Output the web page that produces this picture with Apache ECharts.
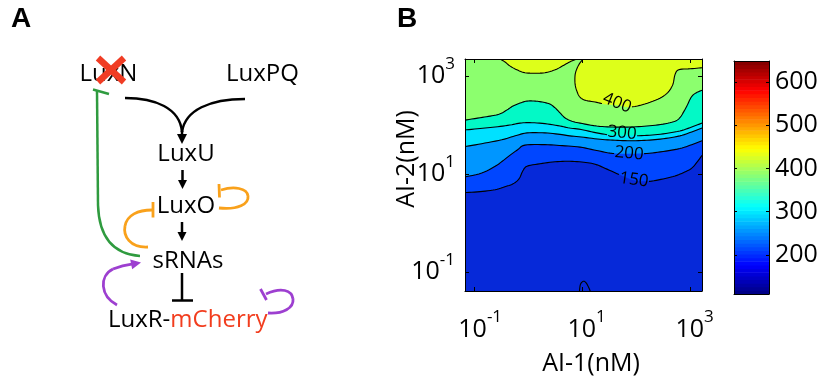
<!DOCTYPE html>
<html><head><meta charset="utf-8">
<script src="https://cdn.jsdelivr.net/npm/echarts@6/dist/echarts.min.js"></script>
<style>html,body{margin:0;padding:0;background:#fff}#c{width:821px;height:381px}</style>
</head><body><div id="c"></div>
<script>
// ---------- DATA (log10 of concentration in nM) ----------
const ai1Ticks = [-1, 1, 3];          // AI-1 axis ticks: 10^-1, 10^1, 10^3
const ai2Ticks = [-1, 1, 3];          // AI-2 axis ticks
const ai1Range = [-1.17, 3.22];
const ai2Range = [-1.39, 3.35];
const colorbarTicks = [200, 300, 400, 500, 600];
const colorbarRange = [110, 648];

// contour lines: [log10 AI-1, log10 AI-2]
const level350 = [[-1.17,2.10],[-0.89,2.15],[-0.67,2.19],[-0.52,2.23],[-0.39,2.31],[-0.28,2.39],[-0.15,2.45],[-0.02,2.49],[0.13,2.49],[0.26,2.47],[0.40,2.43],[0.50,2.35],[0.59,2.25],[0.68,2.15],[0.81,2.08],[0.96,2.04],[1.27,1.98],[1.57,1.96],[1.89,1.96],[2.20,1.98],[2.50,2.02],[2.72,2.08],[2.81,2.15],[2.88,2.27],[2.94,2.39],[3.00,2.53],[3.05,2.61],[3.13,2.67],[3.22,2.71]];
const level300 = [[-1.17,1.90],[-0.89,1.93],[-0.61,1.96],[-0.34,2.00],[-0.15,2.04],[0.03,2.05],[0.31,2.03],[0.59,1.98],[0.77,1.94],[0.98,1.91],[1.27,1.84],[1.57,1.79],[1.89,1.78],[2.20,1.79],[2.50,1.82],[2.81,1.88],[3.03,1.96],[3.22,2.04]];
const level250 = [[-1.17,1.56],[-0.86,1.62],[-0.49,1.70],[-0.24,1.78],[-0.02,1.84],[0.31,1.84],[0.59,1.81],[0.77,1.78],[1.03,1.75],[1.33,1.71],[1.61,1.69],[1.89,1.68],[2.20,1.69],[2.50,1.72],[2.81,1.78],[3.03,1.86],[3.22,1.94]];
const level200 = [[-1.17,0.94],[-0.86,1.02],[-0.61,1.16],[-0.48,1.26],[-0.34,1.38],[-0.19,1.50],[-0.06,1.59],[0.31,1.60],[0.63,1.58],[0.96,1.55],[1.27,1.48],[1.57,1.42],[1.89,1.41],[2.20,1.42],[2.50,1.46],[2.81,1.52],[3.03,1.60],[3.22,1.68]];
const level150 = [[-1.17,0.62],[-0.89,0.64],[-0.61,0.68],[-0.43,0.74],[-0.28,0.80],[-0.17,0.90],[-0.10,1.06],[-0.02,1.16],[0.22,1.21],[0.50,1.25],[0.77,1.26],[1.03,1.24],[1.24,1.20],[1.46,1.10],[1.74,0.96],[1.98,0.86],[2.24,0.85],[2.50,0.90],[2.72,0.96],[2.90,1.04],[3.03,1.12],[3.14,1.26],[3.22,1.38]];
const level400Left = [[-0.52,3.35],[-0.43,3.29],[-0.34,3.21],[-0.21,3.13],[-0.06,3.07],[0.13,3.06],[0.31,3.07],[0.50,3.13],[0.64,3.21],[0.77,3.29],[0.90,3.35]];
const level400Right = [[1.02,3.35],[0.96,3.27],[0.91,3.17],[0.87,3.03],[0.87,2.83],[0.91,2.67],[0.96,2.57],[1.05,2.51],[1.24,2.47],[1.42,2.43],[1.64,2.41],[1.89,2.37],[2.16,2.43],[2.44,2.55],[2.59,2.67],[2.68,2.83],[2.72,3.03],[2.79,3.13],[3.00,3.15],[3.22,3.17]];
const level150Loop = [[0.95,-1.39],[0.97,-1.25],[1.03,-1.19],[1.09,-1.25],[1.15,-1.39]];

// ---------- STYLE ----------
const FONT = '"Open Sans", "Noto Sans", sans-serif';
const bandColor = {
  base: '#8cff6e',   // 350-400
  350: '#03f9c6',    // below 350
  300: '#00e1ff',
  250: '#0096ff',
  200: '#0046ff',
  150: '#0629d9',
  400: '#ddff1a'     // above 400
};
const contours = [
  {pts: level350, level: 350, fill: 'down'},
  {pts: level300, level: 300, fill: 'down', label: {at: [1.74, 1.84], rot: -5}},
  {pts: level250, level: 250, fill: 'down'},
  {pts: level200, level: 200, fill: 'down', label: {at: [1.87, 1.42], rot: -5}},
  {pts: level150, level: 150, fill: 'down', label: {at: [1.96, 0.88], rot: -8}},
  {pts: level400Left, level: 400, fill: 'up'},
  {pts: level400Right, level: 400, fill: 'up', label: {at: [1.645, 2.45], rot: -22}},
  {pts: level150Loop, level: 150, fill: null}
];
const labeled = contours.filter(c => c.label);

// Catmull-Rom smoothing of a pixel polyline (rendering only)
function smoothPix(pix, k) {
  if (pix.length < 3) return pix;
  const out = [];
  for (let i = 0; i < pix.length - 1; i++) {
    const p0 = pix[Math.max(0, i - 1)], p1 = pix[i], p2 = pix[i + 1], p3 = pix[Math.min(pix.length - 1, i + 2)];
    for (let s = 0; s < k; s++) {
      const t = s / k, t2 = t * t, t3 = t2 * t;
      const f = (a, b, c, d) => 0.5 * ((2 * b) + (-a + c) * t + (2 * a - 5 * b + 4 * c - d) * t2 + (-a + 3 * b - 3 * c + d) * t3);
      out.push([f(p0[0], p1[0], p2[0], p3[0]), f(p0[1], p1[1], p2[1], p3[1])]);
    }
  }
  out.push(pix[pix.length - 1]);
  return out;
}
function interp(q, p, x) { return [x, q[1] + (p[1] - q[1]) * (x - q[0]) / (p[0] - q[0])]; }
function gapSegments(pix, gap) {
  if (!gap) return [pix];
  const ins = p => p[0] > gap[0] && p[0] < gap[1];
  const segs = []; let cur = [];
  for (let i = 0; i < pix.length; i++) {
    const p = pix[i];
    if (i > 0) {
      const q = pix[i - 1];
      const qi = ins(q), pi = ins(p);
      if (!qi && pi) { cur.push(interp(q, p, q[0] <= gap[0] ? gap[0] : gap[1])); segs.push(cur); cur = []; }
      else if (qi && !pi) { cur = [interp(q, p, p[0] >= gap[1] ? gap[1] : gap[0])]; }
      else if (!qi && !pi && ((q[0] <= gap[0] && p[0] >= gap[1]) || (q[0] >= gap[1] && p[0] <= gap[0]))) {
        const a = q[0] < p[0] ? gap[0] : gap[1], b = q[0] < p[0] ? gap[1] : gap[0];
        cur.push(interp(q, p, a)); segs.push(cur); cur = [interp(q, p, b)];
      }
    }
    if (!ins(p)) cur.push(p);
  }
  if (cur.length > 1) segs.push(cur);
  return segs;
}
function jet(f) {
  const c = x => Math.max(0, Math.min(1, x));
  const r = c(Math.min(4 * f - 1.5, -4 * f + 4.5)), g = c(Math.min(4 * f - 0.5, -4 * f + 3.5)), b = c(Math.min(4 * f + 0.5, -4 * f + 2.5));
  return 'rgb(' + Math.round(r * 255) + ',' + Math.round(g * 255) + ',' + Math.round(b * 255) + ')';
}
const cbSteps = Array.from({length: 64}, (_, i) => i);

const TICKFS = 25;
const supRich = {
  b: {fontSize: TICKFS, fontFamily: FONT, color: '#000', verticalAlign: 'bottom', padding: [8, 0, 0, 0]},
  e: {fontSize: 17, fontFamily: FONT, color: '#000', verticalAlign: 'top'},
  pn: {width: 12, fontSize: 10}, pp: {width: 9, fontSize: 10}
};
const fmtX = v => { const n = Math.round(v); return (n < 0 ? '{pn| }' : '{pp| }') + '{b|10}{e|' + n + '}'; };
const fmtY = v => '{b|10}{e|' + Math.round(v) + '}';

function frameAxis(extra) {
  return Object.assign({
    type: 'value', z: 10, splitLine: {show: false},
    axisLine: {show: true, onZero: false, lineStyle: {color: '#000', width: 1}},
    axisTick: {show: true, inside: true, length: 4, lineStyle: {color: '#000'}},
    axisLabel: {show: false}
  }, extra);
}

// ---------- PANEL A diagram ----------
const LW = 2.5;
function arrowHead(tip, dir, len, hw, color) {
  const l = Math.hypot(dir[0], dir[1]); const ux = dir[0] / l, uy = dir[1] / l;
  const bx = tip[0] - ux * len, by = tip[1] - uy * len;
  return {type: 'polygon', shape: {points: [tip, [bx - uy * hw, by + ux * hw], [bx + uy * hw, by - ux * hw]]}, style: {fill: color}};
}
function line(x1, y1, x2, y2, color, w) {
  return {type: 'line', shape: {x1, y1, x2, y2}, style: {stroke: color, lineWidth: w || LW}};
}
function curve(x1, y1, c1x, c1y, c2x, c2y, x2, y2, color, w) {
  return {type: 'bezierCurve', shape: {x1, y1, cpx1: c1x, cpy1: c1y, cpx2: c2x, cpy2: c2y, x2, y2}, style: {stroke: color, fill: null, lineWidth: w || LW}};
}
function label(t, x, y, extra) {
  return {type: 'text', x, y, style: Object.assign({text: t, font: '24px ' + FONT, fill: '#000', align: 'center', verticalAlign: 'middle', textAlign: 'center', textVerticalAlign: 'middle'}, extra || {})};
}
const ORANGE = '#f9a11b', GREEN = '#2f9b3f', PURPLE = '#9d3fd0', RED = '#f03c24';
const diagram = [
  {type: 'text', x: 11, y: 5, style: {text: 'A', font: 'bold 28px "Liberation Sans", Arial, sans-serif', fill: '#000'}},
  {type: 'text', x: 397, y: 5, style: {text: 'B', font: 'bold 28px "Liberation Sans", Arial, sans-serif', fill: '#000'}},
  label('LuxN', 108.5, 74),
  line(98, 58, 124, 82, RED, 6.5), line(124, 58, 98, 82, RED, 6.5),
  label('LuxPQ', 262.5, 74),
  curve(125, 98, 155, 98, 180, 108, 182, 132, '#000'), line(182, 131, 182, 137, '#000'),
  curve(245, 99, 210, 99, 185, 110, 182, 132, '#000'),
  arrowHead([182, 144], [0, 1], 10, 5, '#000'),
  label('LuxU', 186, 154),
  line(182.5, 170, 182.5, 182, '#000'), arrowHead([182.5, 189], [0, 1], 9, 4.5, '#000'),
  label('LuxO', 186, 206),
  curve(219, 208, 238, 210, 249, 204, 248, 196, ORANGE, 2.8),
  curve(248, 196, 247, 188, 234, 186, 221, 190, ORANGE, 2.8),
  line(219, 184, 219.5, 197.5, ORANGE, 2.8),
  curve(148, 247, 130, 248, 123, 236, 125, 226, ORANGE, 2.8),
  curve(125, 226, 127, 215, 138, 210, 152, 210, ORANGE, 2.8),
  line(153, 202, 153, 217.5, ORANGE, 2.8),
  line(182, 222, 182, 234, '#000'), arrowHead([182, 241], [0, 1], 9, 4.5, '#000'),
  label('sRNAs', 188, 261),
  curve(140, 256, 112, 254, 99, 236, 98, 205, GREEN), line(98, 205, 97, 91, GREEN),
  line(93, 89.5, 109, 94, GREEN),
  curve(117, 305, 100, 296, 99, 276, 113, 269, PURPLE, 2.8),
  curve(113, 269, 120, 266, 127, 264.5, 133, 263.8, PURPLE, 2.8),
  arrowHead([141, 262.5], [1, -0.2], 10, 5, PURPLE),
  line(182, 273, 182, 300, '#000'), line(172, 300.5, 193, 300.5, '#000'),
  {type: 'text', x: 108, y: 320, style: {text: '{k|LuxR-}{r|mCherry}', font: '24px ' + FONT, verticalAlign: 'middle', textVerticalAlign: 'middle',
    rich: {k: {fill: '#000', font: '24px ' + FONT}, r: {fill: '#f23d1e', font: '24px ' + FONT}}}},
  curve(268, 313, 283, 314, 294, 308, 293, 299, PURPLE, 2.8),
  curve(293, 299, 292, 290, 281, 287, 266, 294, PURPLE, 2.8),
  line(260.5, 289, 266.5, 300, PURPLE, 2.8)
];

// ---------- CHART ----------
const chart = echarts.init(document.getElementById('c'), null, {renderer: 'canvas'});
chart.setOption({
  animation: false,
  backgroundColor: '#fff',
  grid: [
    {left: 465, top: 59, width: 237, height: 236, show: true, backgroundColor: bandColor.base, borderWidth: 0},
    {left: 734, top: 61, width: 35, height: 233, show: false}
  ],
  xAxis: [
    frameAxis({gridIndex: 0, position: 'bottom', min: ai1Range[0], max: ai1Range[1],
      axisTick: {show: true, inside: true, length: 4, customValues: ai1Ticks, lineStyle: {color: '#000'}},
      axisLabel: {show: true, customValues: ai1Ticks, formatter: fmtX, rich: supRich, margin: 18},
      name: 'AI-1(nM)', nameLocation: 'middle', nameGap: 60, nameMoveOverlap: false,
      nameTextStyle: {fontSize: 25, fontFamily: FONT, color: '#000', padding: [0, 0, 0, 15]}}),
    frameAxis({gridIndex: 0, position: 'top', min: ai1Range[0], max: ai1Range[1],
      axisTick: {show: true, inside: true, length: 4, customValues: ai1Ticks, lineStyle: {color: '#000'}}}),
    frameAxis({gridIndex: 1, position: 'bottom', min: 0, max: 1, axisTick: {show: false}}),
    frameAxis({gridIndex: 1, position: 'top', min: 0, max: 1, axisTick: {show: false}})
  ],
  yAxis: [
    frameAxis({gridIndex: 0, position: 'left', min: ai2Range[0], max: ai2Range[1],
      axisTick: {show: true, inside: true, length: 4, customValues: ai2Ticks, lineStyle: {color: '#000'}},
      axisLabel: {show: true, customValues: ai2Ticks, formatter: fmtY, rich: supRich, margin: 10, padding: [0, 0, 8, 0]},
      name: 'AI-2(nM)', nameLocation: 'middle', nameGap: 46, nameRotate: 90, nameMoveOverlap: false,
      nameTextStyle: {fontSize: 25, fontFamily: FONT, color: '#000', padding: [0, 0, 0, 32]}}),
    frameAxis({gridIndex: 0, position: 'right', min: ai2Range[0], max: ai2Range[1],
      axisTick: {show: true, inside: true, length: 4, customValues: ai2Ticks, lineStyle: {color: '#000'}}}),
    frameAxis({gridIndex: 1, position: 'right', min: colorbarRange[0], max: colorbarRange[1],
      axisTick: {show: true, inside: true, length: 3, customValues: colorbarTicks, lineStyle: {color: '#000'}},
      axisLabel: {show: true, customValues: colorbarTicks, margin: 6, fontSize: TICKFS, fontFamily: FONT, color: '#000'}}),
    frameAxis({gridIndex: 1, position: 'left', min: colorbarRange[0], max: colorbarRange[1],
      axisTick: {show: true, inside: true, length: 3, customValues: colorbarTicks, lineStyle: {color: '#000'}}})
  ],
  series: [
    { // filled contour bands
      type: 'custom', name: 'fill', xAxisIndex: 0, yAxisIndex: 0, silent: true, clip: true, z: 2,
      data: contours.map((c, i) => [i]),
      renderItem: (params, api) => {
        const c = contours[params.dataIndex];
        if (!c.fill) return null;
        const pts = smoothPix(c.pts.map(p => api.coord(p)), 6);
        const lim = c.fill === 'down' ? ai2Range[0] : ai2Range[1];
        pts.push(api.coord([c.pts[c.pts.length - 1][0], lim]));
        pts.push(api.coord([c.pts[0][0], lim]));
        return {type: 'polygon', shape: {points: pts}, style: {fill: bandColor[c.level], stroke: bandColor[c.level], lineWidth: 0.5}};
      }
    },
    { // contour lines
      type: 'custom', name: 'lines', xAxisIndex: 0, yAxisIndex: 0, silent: true, clip: true, z: 3,
      data: contours.map((c, i) => [i]),
      renderItem: (params, api) => {
        const c = contours[params.dataIndex];
        const pix = smoothPix(c.pts.map(p => api.coord(p)), 6);
        let gap = null;
        if (c.label) { const lc = api.coord(c.label.at); gap = [lc[0] - 15, lc[0] + 15]; }
        const segs = gapSegments(pix, gap);
        return {type: 'group', children: segs.map(s => ({type: 'polyline', shape: {points: s}, style: {stroke: '#000', lineWidth: 1.1, fill: null}}))};
      }
    },
    { // contour labels
      type: 'custom', name: 'labels', xAxisIndex: 0, yAxisIndex: 0, silent: true, z: 4,
      data: labeled.map((c, i) => [i]),
      renderItem: (params, api) => {
        const c = labeled[params.dataIndex];
        const p = api.coord(c.label.at);
        return {type: 'text', x: p[0], y: p[1], rotation: c.label.rot * Math.PI / 180,
          style: {text: String(c.level), font: '17px ' + FONT, fill: '#000', align: 'center', verticalAlign: 'middle', textAlign: 'center', textVerticalAlign: 'middle'}};
      }
    },
    { // colorbar
      type: 'custom', name: 'colorbar', xAxisIndex: 2, yAxisIndex: 2, silent: true, z: 2,
      data: cbSteps.map(i => [i]),
      renderItem: (params, api) => {
        const i = params.dataIndex, n = cbSteps.length;
        const v0 = colorbarRange[0] + (colorbarRange[1] - colorbarRange[0]) * i / n;
        const v1 = colorbarRange[0] + (colorbarRange[1] - colorbarRange[0]) * (i + 1) / n;
        const a = api.coord([0, v0]), b = api.coord([1, v1]);
        return {type: 'rect', shape: {x: a[0], y: b[1], width: b[0] - a[0], height: a[1] - b[1] + 0.6}, style: {fill: jet((i + 0.5) / n)}};
      }
    }
  ],
  graphic: diagram
});
</script></body></html>
